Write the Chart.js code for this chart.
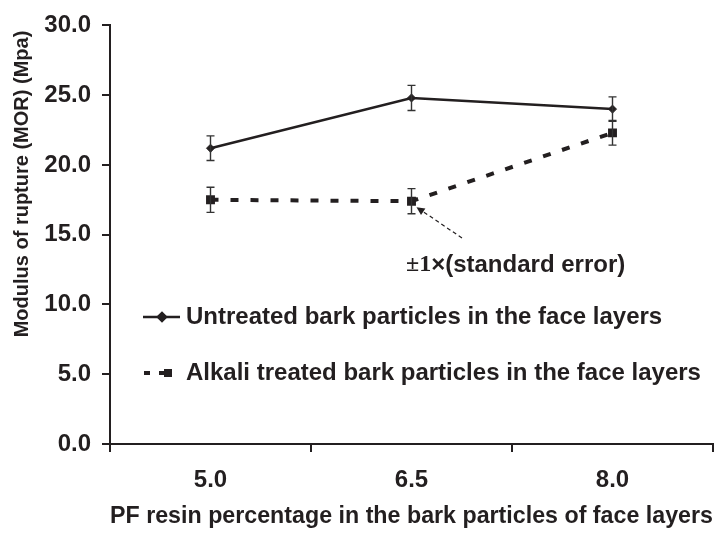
<!DOCTYPE html>
<html><head><meta charset="utf-8">
<script src="https://cdn.jsdelivr.net/npm/chart.js@4"></script>
<style>html,body{margin:0;padding:0;background:#fff;} canvas{display:block;}</style>
</head><body>
<canvas id="c" width="724" height="533"></canvas>
<script>
// ---- data ----
const categories = ['5.0', '6.5', '8.0'];
const untreated = [21.2, 24.8, 24.0];
const untreatedSE = [0.88, 0.9, 0.88];
const alkali = [17.5, 17.4, 22.3];
const alkaliSE = [0.9, 0.9, 0.88];
const yTickStep = 5;
const yMin = 0, yMax = 30;
const seriesNames = ['Untreated bark particles in the face layers', 'Alkali treated bark particles in the face layers'];
const yTitle = 'Modulus of rupture (MOR) (Mpa)';
const xTitle = 'PF resin percentage in the bark particles of face layers';
const annotationParts = ['±1', '×(standard error)'];

// ---- style ----
const INK = '#231f20';
const SANS = '"Liberation Sans", Arial, Helvetica, sans-serif';
const SERIF = '"Liberation Serif", "Times New Roman", serif';

const errorBars = {
  id: 'errorBars',
  afterDatasetsDraw(chart) {
    const ctx = chart.ctx, y = chart.scales.y;
    chart.data.datasets.forEach((ds, i) => {
      const meta = chart.getDatasetMeta(i);
      meta.data.forEach((pt, j) => {
        const v = ds.data[j], e = ds.se[j];
        const top = y.getPixelForValue(v + e), bot = y.getPixelForValue(v - e);
        ctx.save();
        ctx.strokeStyle = '#333';
        ctx.lineWidth = 1.4;
        ctx.setLineDash([]);
        ctx.beginPath();
        ctx.moveTo(pt.x, top); ctx.lineTo(pt.x, bot);
        ctx.moveTo(pt.x - 4, top); ctx.lineTo(pt.x + 4, top);
        ctx.moveTo(pt.x - 4, bot); ctx.lineTo(pt.x + 4, bot);
        ctx.stroke();
        ctx.restore();
      });
    });
  }
};

const extras = {
  id: 'extras',
  afterDraw(chart) {
    const ctx = chart.ctx;
    const ds = chart.data.datasets;
    ctx.save();
    ctx.fillStyle = INK;
    ctx.strokeStyle = INK;
    // legend entry 1
    let ly = 317;
    ctx.lineWidth = ds[0].borderWidth;
    ctx.beginPath(); ctx.moveTo(143, ly); ctx.lineTo(180, ly); ctx.stroke();
    Chart.helpers.drawPoint(ctx, {pointStyle: 'rectRot', radius: ds[0].pointRadius, borderWidth: 1}, 162, ly);
    ctx.fill();
    // legend entry 2
    ly = 373;
    ctx.lineWidth = ds[1].borderWidth;
    ctx.beginPath(); ctx.moveTo(144, ly); ctx.lineTo(150, ly); ctx.moveTo(159, ly); ctx.lineTo(170, ly); ctx.stroke();
    ctx.fillRect(164, ly - 4, 8, 8);
    ctx.font = 'bold 24px ' + SANS;
    ctx.textBaseline = 'middle';
    ctx.textAlign = 'left';
    ctx.fillText(seriesNames[0], 186, 317);
    ctx.fillText(seriesNames[1], 186, 373);

    // y axis title
    ctx.save();
    ctx.translate(22, 184);
    ctx.rotate(-Math.PI / 2);
    ctx.textAlign = 'center';
    ctx.font = 'bold 20px ' + SANS;
    ctx.fillText(yTitle, 0, 0);
    ctx.restore();

    // annotation
    let ax = 406, ay = 265;
    ctx.font = 'bold 24px ' + SERIF;
    ctx.fillText(annotationParts[0], ax, ay);
    ax += ctx.measureText(annotationParts[0]).width;
    ctx.font = 'bold 24px ' + SANS;
    ctx.fillText(annotationParts[1], ax, ay);

    // arrow from text to the alkali point at 6.5
    const p = chart.getDatasetMeta(1).data[1];
    const tx = p.x + 5, ty = p.y + 6;
    const sx = 462, sy = 238;
    ctx.lineWidth = 1.2;
    ctx.setLineDash([4, 3]);
    ctx.beginPath(); ctx.moveTo(sx, sy); ctx.lineTo(tx + 6, ty + 4); ctx.stroke();
    ctx.setLineDash([]);
    const ang = Math.atan2(ty - sy, tx - sx);
    ctx.beginPath();
    ctx.moveTo(tx, ty);
    ctx.lineTo(tx - 9 * Math.cos(ang - 0.45), ty - 9 * Math.sin(ang - 0.45));
    ctx.lineTo(tx - 9 * Math.cos(ang + 0.45), ty - 9 * Math.sin(ang + 0.45));
    ctx.closePath();
    ctx.fill();
    ctx.restore();
  }
};

new Chart(document.getElementById('c'), {
  type: 'line',
  data: {
    labels: categories,
    datasets: [
      {
        label: seriesNames[0], data: untreated, se: untreatedSE,
        borderColor: INK, backgroundColor: INK, borderWidth: 2.5,
        pointStyle: 'rectRot', pointRadius: 4, pointBackgroundColor: INK, pointBorderColor: INK, pointBorderWidth: 1,
        tension: 0, fill: false
      },
      {
        label: seriesNames[1], data: alkali, se: alkaliSE,
        borderColor: INK, backgroundColor: INK, borderWidth: 4, borderDash: [8, 12],
        pointStyle: 'rect', pointRadius: 6.3, pointBackgroundColor: INK, pointBorderColor: INK, pointBorderWidth: 0,
        tension: 0, fill: false
      }
    ]
  },
  options: {
    responsive: false,
    animation: false,
    devicePixelRatio: 1,
    layout: { padding: { top: 23, right: 11, left: 0, bottom: 0 } },
    plugins: { legend: { display: false }, tooltip: { enabled: false } },
    scales: {
      x: {
        type: 'category',
        offset: true,
        grid: { offset: true, drawOnChartArea: false, drawTicks: true, tickLength: 8, color: INK, lineWidth: 2 },
        border: { display: true, color: INK, width: 2 },
        ticks: { color: INK, font: { family: SANS, size: 24, weight: 'bold' }, padding: 14, maxRotation: 0 },
        title: { display: true, text: xTitle, color: INK, font: { family: SANS, size: 24, weight: 'bold' }, padding: { top: 0, bottom: 2 } },
        afterFit(scale) { scale.height = 89; }
      },
      y: {
        min: yMin, max: yMax,
        grid: { drawOnChartArea: false, drawTicks: true, tickLength: 8, color: INK, lineWidth: 2 },
        border: { display: true, color: INK, width: 2 },
        ticks: { stepSize: yTickStep, color: INK, font: { family: SANS, size: 24, weight: 'bold' }, padding: 11,
                 callback: (v) => Number(v).toFixed(1) },
        afterFit(scale) { scale.width = 110; }
      }
    }
  },
  plugins: [errorBars, extras]
});
</script>
</body></html>
